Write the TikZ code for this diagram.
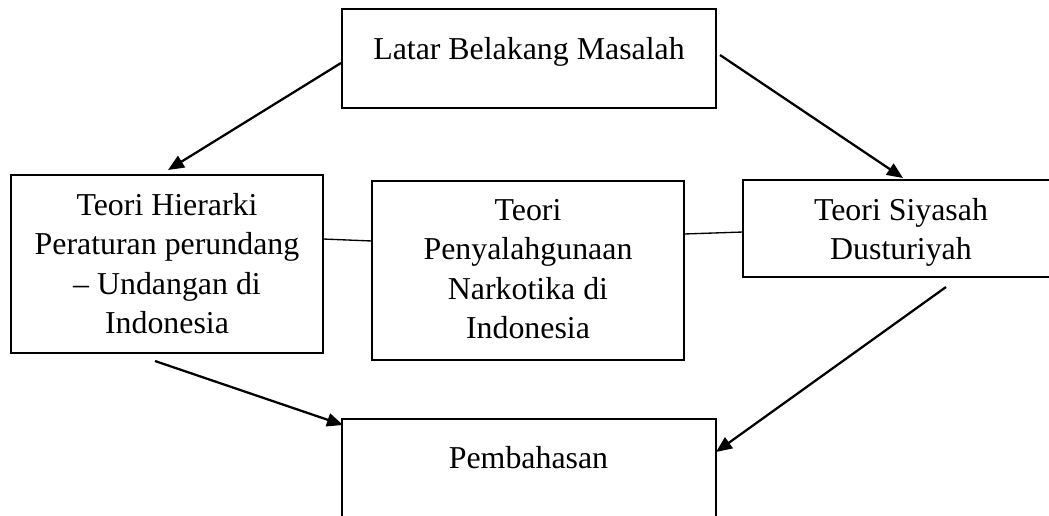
\documentclass[tikz,border=0pt]{standalone}
\usepackage{fontspec}
\setmainfont{Liberation Serif}
\usetikzlibrary{arrows.meta,calc}
\begin{document}
\begin{tikzpicture}[x=0.75pt,y=-0.75pt,
 box/.style={draw, line width=2.1pt, rectangle, inner sep=0pt, outer sep=0pt, anchor=north west},
 txt/.style={font=\fontsize{23.9}{29.6}\selectfont, align=center, anchor=base, inner sep=0pt},
 arr/.style={line width=1.7pt, -{Triangle[length=12pt,width=10pt]}},
 link/.style={line width=1pt}]
\useasboundingbox (0,0) rectangle (1049,515);
\clip (0,0) rectangle (1049,515);
% boxes
\node[box, minimum width=280.5pt, minimum height=74.25pt] (lbm) at (342,9) {};
\node[box, minimum width=234pt, minimum height=133.5pt] (hier) at (11,175) {};
\node[box, minimum width=234pt, minimum height=134.25pt] (narko) at (372,181) {};
\node[box, minimum width=237pt, minimum height=72.75pt] (siyasah) at (743,180) {};
\node[box, minimum width=280.5pt, minimum height=97.5pt] (bahas) at (342,419) {};
% texts (anchor = baseline of the last line)
\node[txt] (t1) at (529,59) {Latar Belakang Masalah};
\node[txt] (t2) at (167,333.5) {Teori Hierarki\\Peraturan perundang\\– Undangan di\\Indonesia};
\node[txt] (t3) at (528,338.5) {Teori\\Penyalahgunaan\\Narkotika di\\Indonesia};
\node[txt] (t4) at (901,259.5) {Teori Siyasah\\Dusturiyah};
\node[txt] (t5) at (528.5,468) {Pembahasan};
% free ends
\coordinate (a1e) at (168,170);
\coordinate (a3s) at (155,361);
\coordinate (a4s) at (946,287);
% arrows
\draw[arr] ($(lbm.north west)+(-1,54)$) -- (a1e);
\draw[arr] ($(lbm.north east)+(4,46)$) -- ($(siyasah.north west)+(160,-2)$);
\draw[arr] (a3s) -- ($(bahas.north west)+(1,6)$);
\draw[arr] (a4s) -- ($(bahas.north east)+(0,33)$);
% links
\draw[link] ($(hier.north east)+(0,64)$) -- ($(narko.north west)+(0,60)$);
\draw[link] ($(narko.north east)+(0,53)$) -- ($(siyasah.north west)+(0,52)$);
\end{tikzpicture}
\end{document}
